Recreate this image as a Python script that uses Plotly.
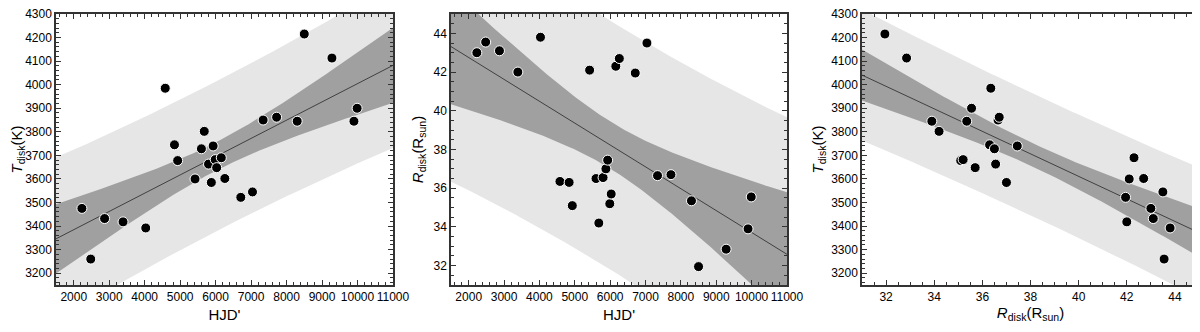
import numpy as np
import plotly.graph_objects as go

hjd = [2230, 2480, 2870, 3390, 4030, 4580, 4840, 4930, 5420, 5600, 5680, 5800, 5880, 5930,
       5990, 6030, 6160, 6260, 6710, 7040, 7340, 7720, 8300, 8500, 9280, 9900, 9990]
t_disk = [3475, 3260, 3432, 3418, 3392, 3985, 3745, 3678, 3600, 3728, 3802, 3663, 3585, 3740,
          3682, 3648, 3690, 3602, 3522, 3545, 3850, 3862, 3845, 4215, 4113, 3845, 3900]
r_disk = [43.0, 43.55, 43.1, 42.0, 43.8, 36.35, 36.3, 35.1, 42.1, 36.5, 34.2, 36.55, 37.0, 37.45,
          35.2, 35.7, 42.3, 42.7, 41.95, 43.5, 36.65, 36.7, 35.35, 31.95, 32.85, 33.9, 35.55]

T_CRIT = 2.06  # 95%, 25 dof

LIGHT = '#e6e6e6'
DARK = '#a0a0a0'


def fit_bands(x, y, lo, hi):
    x = np.asarray(x, float)
    y = np.asarray(y, float)
    n = len(x)
    b, a = np.polyfit(x, y, 1)
    res = y - (a + b * x)
    s = np.sqrt(np.sum(res ** 2) / (n - 2))
    xm = x.mean()
    sxx = np.sum((x - xm) ** 2)
    xs = np.linspace(lo, hi, 200)
    yf = a + b * xs
    conf = T_CRIT * s * np.sqrt(1 / n + (xs - xm) ** 2 / sxx)
    pred = T_CRIT * s * np.sqrt(1 + 1 / n + (xs - xm) ** 2 / sxx)
    return xs, yf, conf, pred


fig = go.Figure()


def add_panel(x, y, col, xr):
    xa = 'x' if col == 1 else 'x%d' % col
    ya = 'y' if col == 1 else 'y%d' % col
    pad = (xr[1] - xr[0]) * 0.1
    xs, yf, conf, pred = fit_bands(x, y, xr[0] - pad, xr[1] + pad)
    for half, color in [(pred, LIGHT), (conf, DARK)]:
        fig.add_trace(go.Scatter(x=xs, y=yf + half, mode='lines', line=dict(width=0),
                                 xaxis=xa, yaxis=ya, showlegend=False, hoverinfo='skip'))
        fig.add_trace(go.Scatter(x=xs, y=yf - half, mode='lines', line=dict(width=0),
                                 fill='tonexty', fillcolor=color,
                                 xaxis=xa, yaxis=ya, showlegend=False, hoverinfo='skip'))
    fig.add_trace(go.Scatter(x=xs, y=yf, mode='lines', line=dict(color='#404040', width=1),
                             xaxis=xa, yaxis=ya, showlegend=False))
    fig.add_trace(go.Scatter(x=x, y=y, mode='markers',
                             marker=dict(color='black', size=10, line=dict(color='white', width=1)),
                             xaxis=xa, yaxis=ya, showlegend=False))


add_panel(hjd, t_disk, 1, [1500, 11000])
add_panel(hjd, r_disk, 2, [1500, 11000])
add_panel(r_disk, t_disk, 3, [31, 45])

font = dict(family='Liberation Sans, Arial, sans-serif', size=12, color='black')
title_font = dict(font, size=15)
axis_common = dict(
    showline=True, linecolor='#333333', linewidth=1.5, mirror='allticks',
    ticks='inside', ticklen=5, tickwidth=1.3, tickcolor='#333333', tickangle=0,
    showgrid=False, zeroline=False, tickfont=font, automargin=False,
    minor=dict(ticks='inside', ticklen=3, tickwidth=1, tickcolor='#333333', showgrid=False),
)

hjd_axis = dict(axis_common, range=[1500, 11000], tick0=0, dtick=1000, tickformat='d',
                title=dict(text="HJD'", font=title_font, standoff=6))
t_axis = dict(axis_common, range=[3150, 4300], tick0=0, dtick=100, tickformat='d',
              ticklabeloverflow='allow',
              title=dict(text='<i>T</i><sub>disk</sub>(K)', font=title_font, standoff=4))
r_axis_y = dict(axis_common, range=[31, 45], tick0=0, dtick=2,
                title=dict(text='<i>R</i><sub>disk</sub>(R<sub>sun</sub>)', font=title_font, standoff=6))
r_axis_x = dict(axis_common, range=[31, 45], tick0=0, dtick=2,
                title=dict(text='<i>R</i><sub>disk</sub>(R<sub>sun</sub>)', font=title_font, standoff=4))

# page body adds an 8px offset, so margins are shifted to compensate
fig.update_layout(
    width=1200, height=332,
    margin=dict(l=48, r=9, t=6, b=55),
    paper_bgcolor='white', plot_bgcolor='white',
    xaxis=dict(hjd_axis, domain=[0, 0.2948], anchor='y'),
    yaxis=dict(t_axis, domain=[0, 1], anchor='x'),
    xaxis2=dict(hjd_axis, domain=[0.3456, 0.6395], anchor='y2'),
    yaxis2=dict(r_axis_y, domain=[0, 1], anchor='x2'),
    xaxis3=dict(r_axis_x, domain=[0.7052, 1.0], anchor='y3'),
    yaxis3=dict(t_axis, domain=[0, 1], anchor='x3'),
)

fig.write_html("out.html")
